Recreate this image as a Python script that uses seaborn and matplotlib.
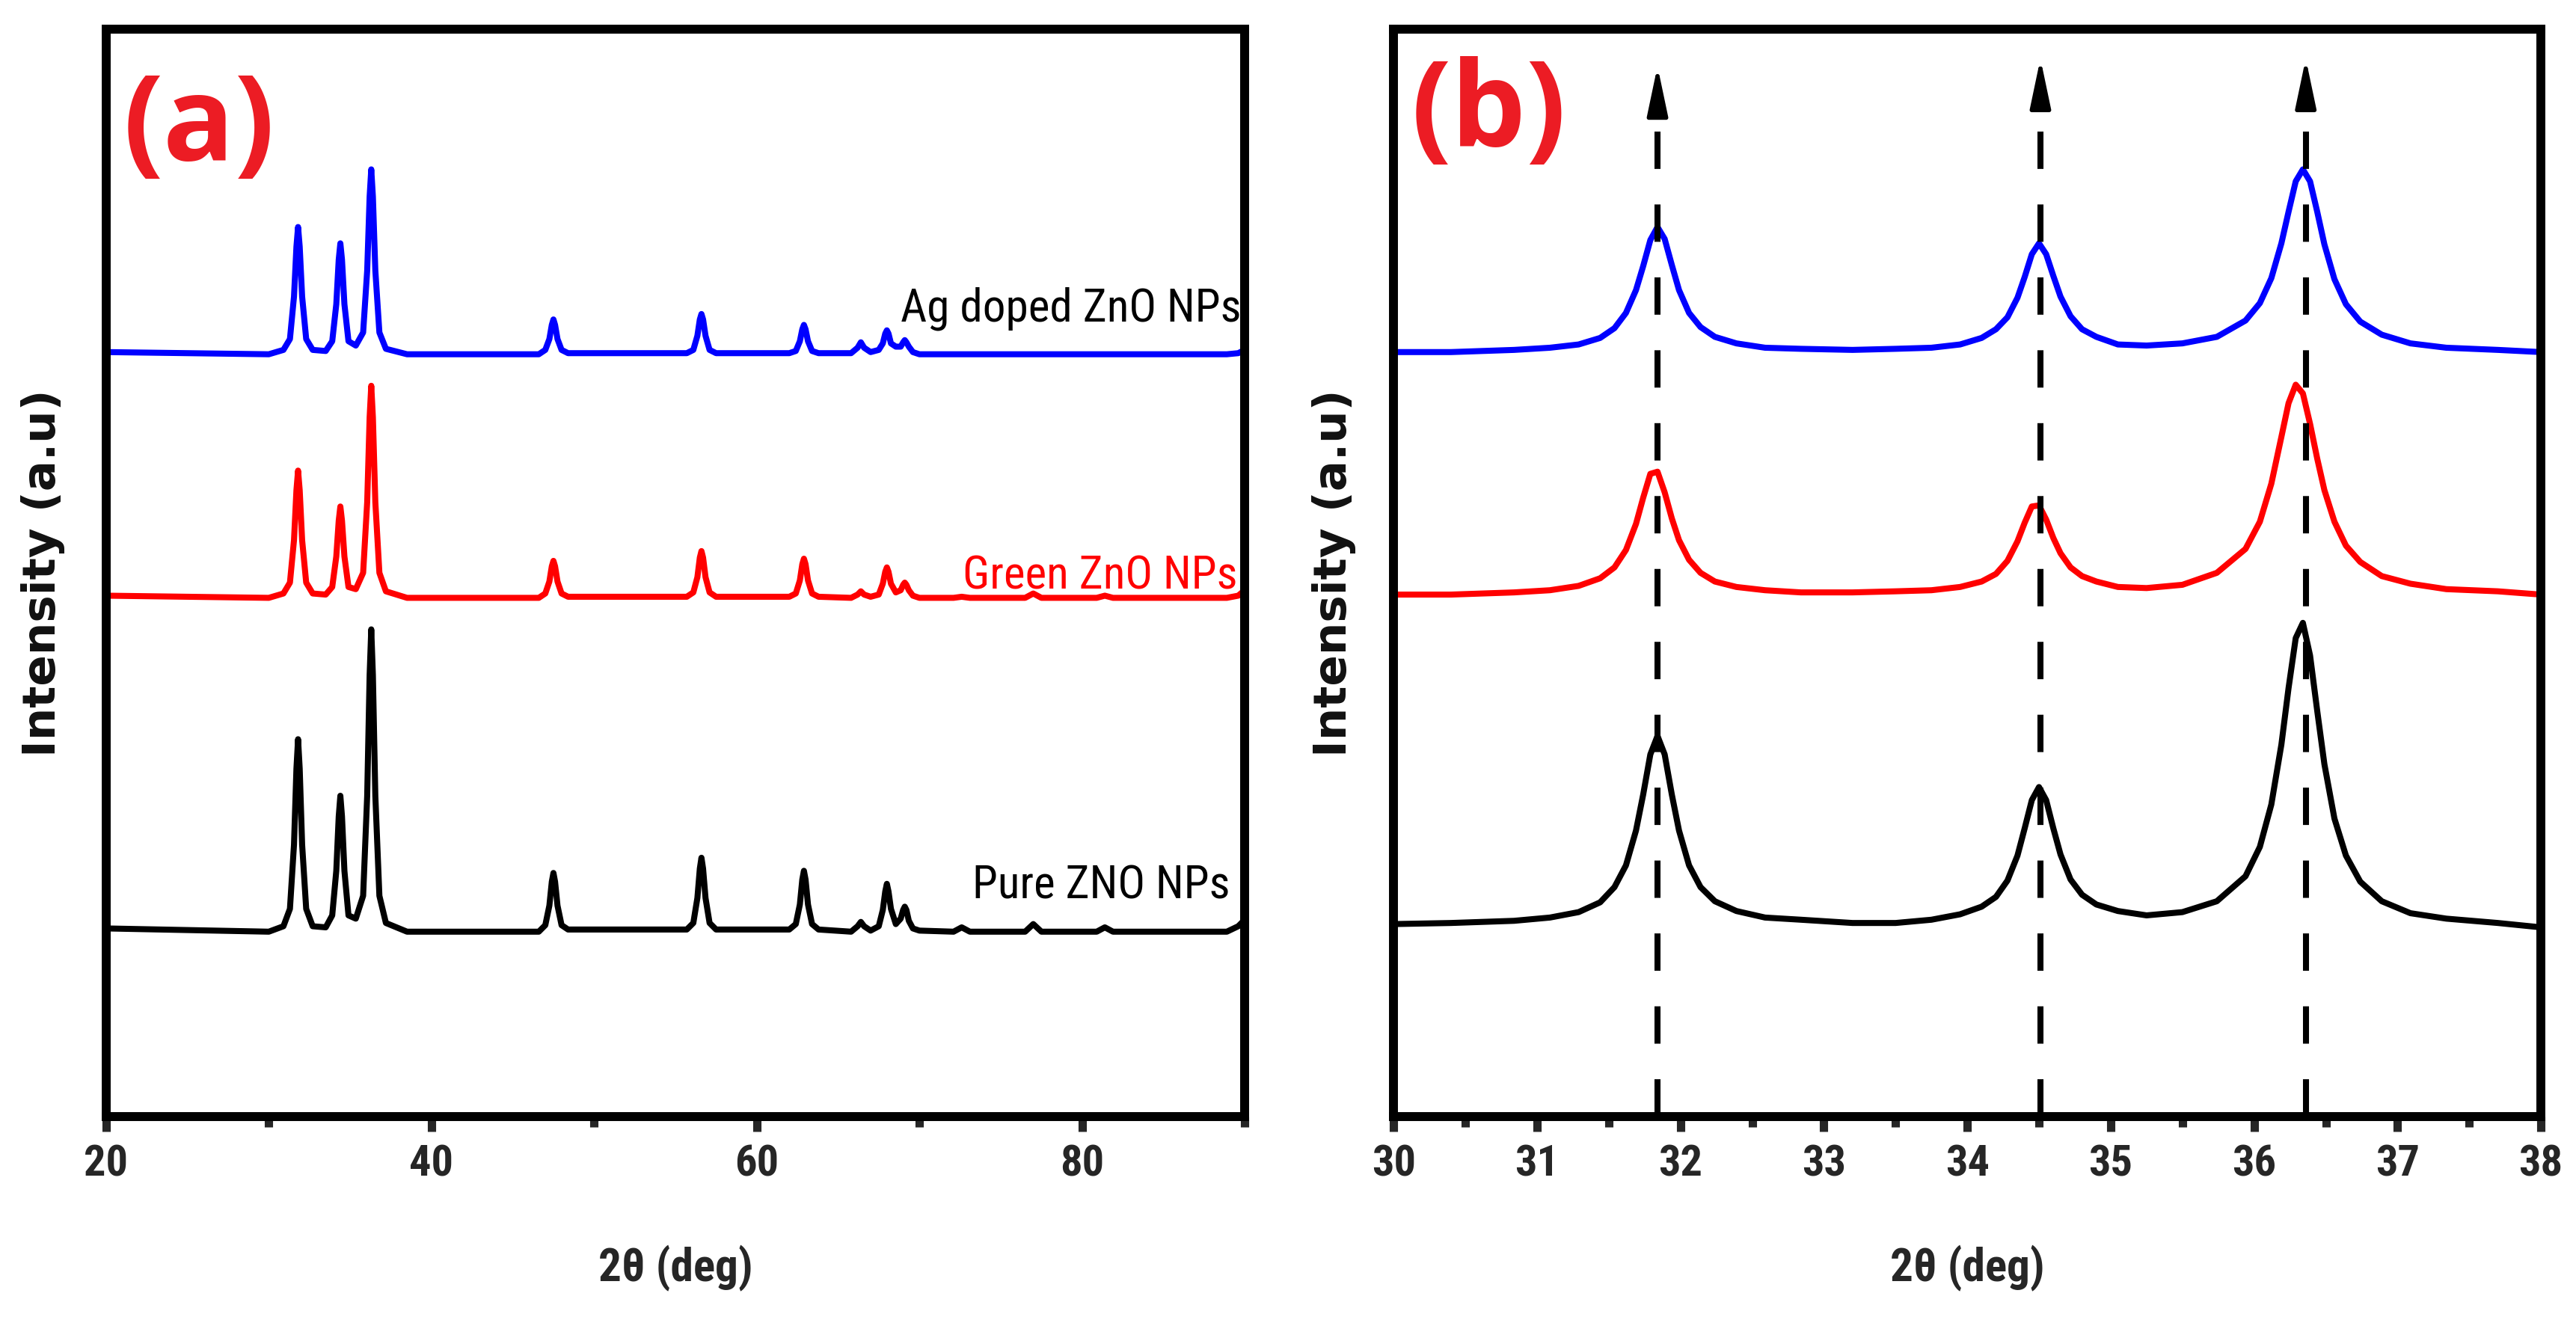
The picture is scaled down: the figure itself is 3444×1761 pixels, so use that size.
import matplotlib
matplotlib.use("Agg")
import matplotlib.pyplot as plt
from matplotlib import font_manager
from matplotlib.ticker import MultipleLocator, FixedLocator
import seaborn as sns

# ---- data (y in arbitrary stacked units, 0..100) ----
# panel (a): full pattern 20-90 deg
two_theta_a = [20, 30.0,
               30.9, 31.3, 31.55, 31.7, 31.8, 31.9, 32.05, 32.3, 32.7,
               33.5, 33.9, 34.15, 34.3, 34.4, 34.5, 34.65, 34.9,
               35.35,
               35.8, 36.05, 36.2, 36.3, 36.4, 36.55, 36.8, 37.2,
               38.5, 46.6,
               47.0, 47.25, 47.4, 47.5, 47.6, 47.75, 48.0, 48.4,
               55.7, 56.1, 56.35, 56.5, 56.6, 56.7, 56.85, 57.1, 57.5,
               62.0, 62.4, 62.65, 62.8, 62.9, 63.0, 63.15, 63.4, 63.8,
               65.8, 66.2, 66.4, 66.6, 67.0, 67.5, 67.75, 67.9, 68.0, 68.1,
               68.25, 68.55, 68.85, 69.0, 69.1, 69.2, 69.35, 69.6, 70.0,
               72.1, 72.6, 73.1, 76.5, 77.0, 77.5, 80.9, 81.4, 81.9, 88.9, 89.6, 90]

pure_a = [17.3, 17.0,
          17.5, 19.1, 25.0, 32.0, 34.7, 32.0, 25.0, 19.1, 17.5,
          17.4, 18.5, 22.6, 27.6, 29.5, 27.6, 22.6, 18.5,
          18.2,
          20.3, 29.5, 40.6, 44.8, 40.6, 29.5, 20.3, 17.8,
          17.0, 17.0,
          17.6, 19.4, 21.6, 22.4, 21.6, 19.4, 17.6, 17.2,
          17.2, 17.8, 20.1, 22.8, 23.8, 22.8, 20.1, 17.8, 17.2,
          17.2, 17.7, 19.5, 21.8, 22.6, 21.8, 19.5, 17.7, 17.2,
          17.0, 17.5, 17.9, 17.5, 17.1, 17.5, 19.0, 20.7, 21.4, 20.7,
          19.1, 17.7, 18.2, 19.0, 19.3, 19.0, 18.0, 17.3, 17.1,
          17.0, 17.4, 17.0, 17.0, 17.7, 17.0, 17.0, 17.4, 17.0, 17.0, 17.5, 18.1]

green_a = [47.9, 47.7,
           48.1, 49.1, 53.0, 57.6, 59.4, 57.6, 53.0, 49.1, 48.1,
           48.0, 48.7, 51.5, 54.8, 56.1, 54.8, 51.5, 48.7,
           48.5,
           50.0, 56.5, 64.3, 67.2, 64.3, 56.5, 50.0, 48.3,
           47.7, 47.7,
           48.1, 49.2, 50.6, 51.1, 50.6, 49.2, 48.1, 47.8,
           47.8, 48.2, 49.6, 51.4, 52.0, 51.4, 49.6, 48.2, 47.8,
           47.8, 48.1, 49.3, 50.8, 51.3, 50.8, 49.3, 48.1, 47.8,
           47.7, 48.0, 48.3, 48.0, 47.8, 48.0, 49.0, 50.1, 50.5, 50.1,
           49.0, 48.2, 48.4, 48.9, 49.1, 48.9, 48.4, 47.9, 47.7,
           47.7, 47.8, 47.7, 47.7, 48.1, 47.7, 47.7, 47.9, 47.7, 47.7, 47.9, 48.4]

ag_a = [70.3, 70.1,
        70.5, 71.5, 75.4, 80.0, 81.8, 80.0, 75.4, 71.5, 70.5,
        70.4, 71.3, 74.7, 78.8, 80.3, 78.8, 74.7, 71.3,
        70.9,
        72.1, 77.8, 84.6, 87.1, 84.6, 77.8, 72.1, 70.6,
        70.1, 70.1,
        70.5, 71.5, 72.8, 73.3, 72.8, 71.5, 70.5, 70.2,
        70.2, 70.5, 71.8, 73.3, 73.8, 73.3, 71.8, 70.5, 70.2,
        70.2, 70.4, 71.3, 72.4, 72.8, 72.4, 71.3, 70.4, 70.2,
        70.2, 70.7, 71.2, 70.7, 70.3, 70.5, 71.1, 72.0, 72.3, 72.0,
        71.1, 70.8, 70.8, 71.2, 71.4, 71.2, 70.8, 70.3, 70.1,
        70.1, 70.1, 70.1, 70.1, 70.1, 70.1, 70.1, 70.1, 70.1, 70.1, 70.2, 70.5]

# panel (b): zoom on the three main reflections
two_theta_b = [30.0, 30.4, 30.84, 31.09, 31.29, 31.44, 31.54, 31.62, 31.69, 31.74, 31.79,
               31.84, 31.89, 31.94, 31.99, 32.06, 32.14, 32.24, 32.39, 32.59, 32.84, 33.2,
               33.50, 33.75, 33.95, 34.10, 34.20, 34.28, 34.35, 34.40, 34.45, 34.50,
               34.55, 34.60, 34.65, 34.72, 34.80, 34.90, 35.05, 35.25, 35.50,
               35.74, 35.94, 36.04, 36.12, 36.19, 36.24, 36.29, 36.34, 36.39, 36.44,
               36.49, 36.56, 36.64, 36.74, 36.89, 37.09, 37.34, 37.7, 38.0]

ag_b = [70.3, 70.3, 70.5, 70.7, 71.0, 71.6, 72.5, 73.9, 76.0, 78.2, 80.6,
        81.8, 80.7, 78.3, 76.0, 73.9, 72.6, 71.7, 71.1, 70.7, 70.6, 70.5,
        70.6, 70.7, 71.0, 71.6, 72.4, 73.5, 75.3, 77.2, 79.3, 80.3,
        79.3, 77.3, 75.4, 73.6, 72.4, 71.7, 71.0, 70.9, 71.1,
        71.7, 73.2, 74.8, 77.1, 80.3, 83.2, 86.0, 87.1, 86.0, 83.2,
        80.2, 77.0, 74.7, 73.1, 71.9, 71.1, 70.7, 70.5, 70.3]

green_b = [48.0, 48.0, 48.2, 48.4, 48.8, 49.5, 50.5, 52.1, 54.5, 56.9, 59.1,
           59.3, 57.4, 55.0, 53.0, 51.2, 50.0, 49.2, 48.7, 48.4, 48.2, 48.2,
           48.3, 48.4, 48.7, 49.2, 49.9, 51.1, 52.9, 54.6, 56.1, 56.2,
           54.9, 53.2, 51.8, 50.5, 49.7, 49.2, 48.7, 48.6, 48.9,
           50.0, 52.2, 54.7, 58.2, 62.5, 65.6, 67.3, 66.5, 63.7, 60.5,
           57.6, 54.7, 52.5, 51.0, 49.7, 49.0, 48.5, 48.3, 48.0]

pure_b = [17.7, 17.8, 18.0, 18.3, 18.8, 19.7, 21.1, 23.1, 26.3, 29.6, 33.3,
          35.0, 33.3, 29.6, 26.3, 23.1, 21.1, 19.8, 18.9, 18.3, 18.1, 17.8,
          17.8, 18.1, 18.6, 19.3, 20.2, 21.7, 24.0, 26.5, 29.1, 30.3,
          29.1, 26.5, 24.1, 21.8, 20.4, 19.5, 18.9, 18.5, 18.8,
          19.8, 22.1, 24.8, 28.7, 34.2, 39.4, 44.0, 45.4, 42.4, 37.3,
          32.4, 27.4, 24.0, 21.6, 19.8, 18.7, 18.2, 17.8, 17.4]

# reference lines at the peak positions and where their arrows end
peak_lines = [31.84, 34.51, 36.36]
arrow_tips = [96.6, 97.3, 97.3]

sample_labels = ["Ag doped ZnO NPs", "Green ZnO NPs", "Pure ZNO NPs"]
label_colors = ["black", "red", "black"]
label_x = [89.8, 89.55, 89.1]
label_y = [74.3, 49.7, 21.2]

# ---- style ----
sns.set_theme(style="white")
names = {f.name for f in font_manager.fontManager.ttflist}
narrow, stretch, scale = "Liberation Sans", "normal", 0.86
for cand in ["Liberation Sans Narrow", "Roboto Condensed", "Open Sans Condensed",
             "DejaVu Sans Condensed"]:
    if cand in names:
        narrow, stretch, scale = cand, "normal", 1.0
        break
else:
    cond = [f for f in font_manager.fontManager.ttflist
            if f.stretch in ("condensed", "semi-condensed", 87.5, 75)]
    if cond:
        narrow, stretch, scale = cond[0].name, "condensed", 1.0
plt.rcParams["font.family"] = [narrow, "DejaVu Sans"]
plt.rcParams["font.stretch"] = stretch

fig = plt.figure(figsize=(17.22, 8.805), dpi=200)
ax_a = fig.add_axes([0.0412, 0.1522, 0.442, 0.8257])
ax_b = fig.add_axes([0.541, 0.1522, 0.4454, 0.8257])

line_w = 2.9

for ax in (ax_a, ax_b):
    for s in ax.spines.values():
        s.set_linewidth(4.3)
        s.set_color("black")
    ax.set_ylim(0, 100)
    ax.set_yticks([])
    ax.tick_params(axis="x", which="major", direction="out", length=7.2, width=4,
                   pad=6, labelsize=21 * scale, bottom=True, top=False)
    ax.tick_params(axis="x", which="minor", direction="out", length=5, width=4,
                   bottom=True, top=False)
    ax.set_ylabel("Intensity (a.u)", fontsize=22, fontweight="bold",
                  family="DejaVu Sans", stretch="normal", color="#111111")
    ax.set_xlabel("2\u03b8 (deg)", fontsize=22 * scale, fontweight="bold")
    ax.xaxis.set_label_coords(0.5, -0.118)

# panel (a)
sns.lineplot(x=two_theta_a, y=ag_a, ax=ax_a, color="blue", lw=line_w, estimator=None, sort=False)
sns.lineplot(x=two_theta_a, y=green_a, ax=ax_a, color="red", lw=line_w, estimator=None, sort=False)
sns.lineplot(x=two_theta_a, y=pure_a, ax=ax_a, color="black", lw=line_w, estimator=None, sort=False)
ax_a.set_xlim(20, 90)
ax_a.xaxis.set_major_locator(FixedLocator([20, 40, 60, 80]))
ax_a.xaxis.set_minor_locator(FixedLocator([30, 50, 70, 90]))
for txt, c, tx, ty in zip(sample_labels, label_colors, label_x, label_y):
    ax_a.text(tx, ty, txt, color=c, fontsize=22 * scale, ha="right", va="center")
ax_a.yaxis.set_label_coords(-0.036, 0.5)

# panel (b)
sns.lineplot(x=two_theta_b, y=ag_b, ax=ax_b, color="blue", lw=line_w, estimator=None, sort=False)
sns.lineplot(x=two_theta_b, y=green_b, ax=ax_b, color="red", lw=line_w, estimator=None, sort=False)
sns.lineplot(x=two_theta_b, y=pure_b, ax=ax_b, color="black", lw=line_w, estimator=None, sort=False)
ax_b.set_xlim(30, 38)
ax_b.xaxis.set_major_locator(MultipleLocator(1))
ax_b.xaxis.set_minor_locator(MultipleLocator(0.5))
ax_b.yaxis.set_label_coords(-0.033, 0.5)

head_len = 4.2
ax_b.vlines(peak_lines, 0, [t - head_len for t in arrow_tips], colors="black",
            linewidth=line_w, linestyles=[(0, (6.2, 5.9))])
for px, tip in zip(peak_lines, arrow_tips):
    ax_b.annotate("", xy=(px, tip), xytext=(px, tip - head_len),
                  arrowprops=dict(arrowstyle="-|>,head_length=2.0,head_width=0.42",
                                  color="black", lw=2.0, shrinkA=0, shrinkB=0,
                                  mutation_scale=10))

for ax in (ax_a, ax_b):
    for lbl in ax.get_xticklabels():
        lbl.set_fontweight("bold")

# panel letters
ax_a.text(0.015, 0.962, "(a)", transform=ax_a.transAxes, fontsize=57, fontweight="bold",
          family=["Open Sans", "DejaVu Sans"], stretch="normal", color="#ec1c24",
          ha="left", va="top")
ax_b.text(0.015, 0.975, "(b)", transform=ax_b.transAxes, fontsize=57, fontweight="bold",
          family=["Open Sans", "DejaVu Sans"], stretch="normal", color="#ec1c24",
          ha="left", va="top")

fig.savefig("out.png", dpi=200, facecolor="white")
